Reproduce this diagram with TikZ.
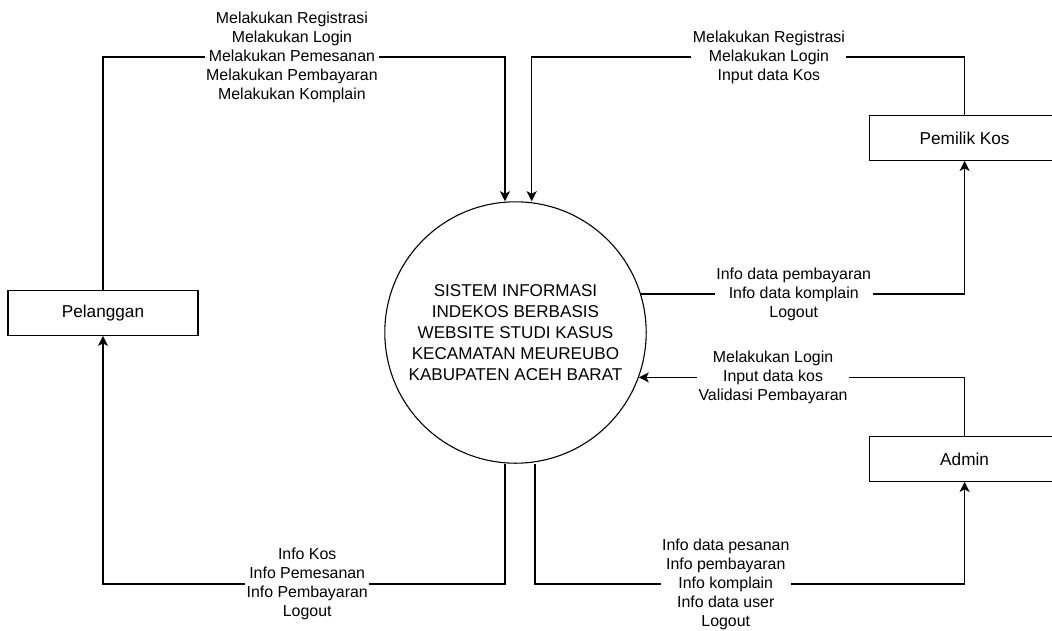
\documentclass[tikz,border=0pt]{standalone}
\usepackage{fontspec}
\setmainfont{Liberation Sans}
\usetikzlibrary{arrows.meta}
\begin{document}
\begin{tikzpicture}
[
    x=1pt, y=-1pt,
    entity/.style={draw, line width=1.3pt, minimum width=190pt, minimum height=44.5pt, inner sep=0pt, font=\fontsize{17.2}{20}\selectfont},
    process/.style={draw, circle, line width=1.1pt, minimum size=261.4pt, inner sep=0pt, align=center, font=\fontsize{17.1}{21}\selectfont},
    flow/.style={draw, line width=1.3pt, -{Stealth[length=10pt, width=10pt, inset=2.5pt]}},
    lbl/.style={fill=white, align=center, inner xsep=1.5pt, inner ysep=0pt, font=\fontsize{15.9}{19}\selectfont}
]
    \useasboundingbox (0,0) rectangle (1052,630);

    \node [process] (sys) at (515.5, 332.5) {SISTEM INFORMASI\\INDEKOS BERBASIS\\WEBSITE STUDI KASUS\\KECAMATAN MEUREUBO\\KABUPATEN ACEH BARAT};
    \node [entity] (pel) at (103, 313) {Pelanggan};
    \node [entity] (pk) at (964.6, 138) {Pemilik Kos};
    \node [entity] (adm) at (964.6, 459) {Admin};

    \coordinate (t1) at (505, 57);
    \coordinate (t2) at (531.7, 57);
    \coordinate (b1) at (505, 584);
    \coordinate (b2) at (535, 584);

    \draw [flow] (pel.north) |- node [lbl, pos=0.735] (l1) {Melakukan Registrasi\\Melakukan Login\\Melakukan Pemesanan\\Melakukan Pembayaran\\Melakukan Komplain} (t1) -- (sys.north -| t1);
    \draw [flow] (pk.north) |- node [lbl, pos=0.726] (l2) {Melakukan Registrasi\\Melakukan Login\\Input data Kos} (t2) -- (sys.north -| t2);
    \draw [flow] (sys.17) -| node [lbl, pos=0.236] (l3) {Info data pembayaran\\Info data komplain\\Logout} (pk.south);
    \draw [flow] (adm.north) |- node [lbl, pos=0.794] (l4) {Melakukan Login\\Input data kos\\Validasi Pembayaran} (sys.-20.4);
    \draw [flow] (sys.south -| b1) -- (b1) -| node [lbl, pos=0.246] (l5) {Info Kos\\Info Pemesanan\\Info Pembayaran\\Logout} (pel.south);
    \draw [flow] (sys.south -| b2) -- (b2) -| node [lbl, pos=0.222] (l6) {Info data pesanan\\Info pembayaran\\Info komplain\\Info data user\\Logout} (adm.south);
\end{tikzpicture}
\end{document}
